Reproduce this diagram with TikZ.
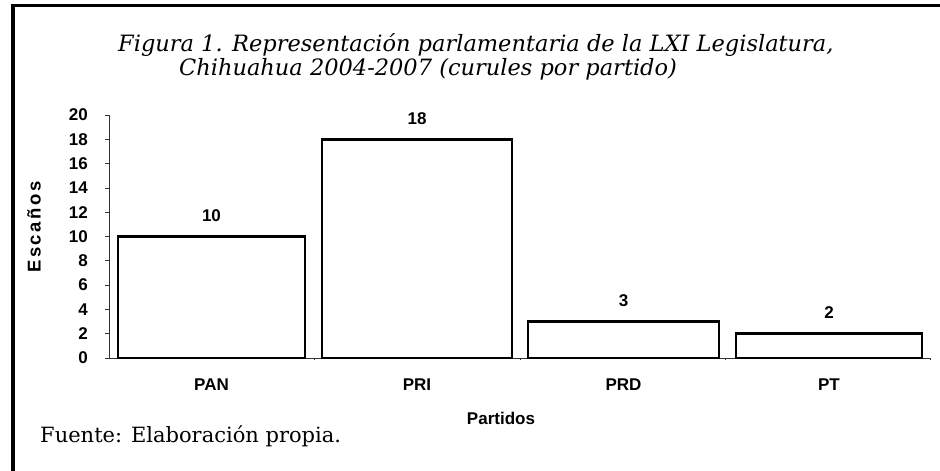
\documentclass[tikz,border=0pt]{standalone}
\usepackage{fontspec}
\setmainfont{DejaVu Serif}
\newfontfamily\arialf{Liberation Sans}
\begin{document}
\begin{tikzpicture}[x=1pt,y=-1pt,
  barbox/.style={draw=black,line width=2.6pt,fill=white,line join=miter},
  ticklab/.style={anchor=east,inner sep=0pt,font=\arialf\bfseries\fontsize{17}{18}\selectfont},
  vallab/.style={inner sep=0pt,font=\arialf\bfseries\fontsize{17}{18}\selectfont},
  catlab/.style={inner sep=0pt,font=\arialf\bfseries\fontsize{17}{18}\selectfont},
  titlab/.style={anchor=base west,inner sep=0pt,font=\itshape\fontsize{22.5}{24}\selectfont},
  axline/.style={line width=0.7pt,black!80}
]
\useasboundingbox (0,0) rectangle (940,471);
% frame
\draw[line width=3.5pt] (13,471) -- (13,5.5) -- (940,5.5);
% title
\node[titlab] (t1) at (118,51.5) {Figura 1. Representación parlamentaria de la LXI Legislatura,};
\node[titlab] (t2) at (179,75) {Chihuahua 2004-2007 (curules por partido)};
% axes
\coordinate (o) at (109,358);
\coordinate (ytop) at (109,115);
\coordinate (xend) at (930,358);
\draw[axline] (ytop) -- (o) -- (xend);
\foreach \v in {0,2,...,20}{
  \draw[axline] (105,{358-12.15*\v}) -- (109,{358-12.15*\v});
  \node[ticklab] (tk\v) at (88,{358-12.15*\v}) {\v};
}
\foreach \xx in {314,520,725,930}{
  \draw[axline] (\xx,358) -- (\xx,360);
}
% bars
\draw[barbox] (118,358) rectangle (305,{358-12.15*10});
\draw[barbox] (322,358) rectangle (512,{358-12.15*18});
\draw[barbox] (528,358) rectangle (719,{358-12.15*3});
\draw[barbox] (736,358) rectangle (922,{358-12.15*2});
% value labels
\node[vallab] (v1) at (211.5,{358-12.15*10-21}) {10};
\node[vallab] (v2) at (417,{358-12.15*18-21}) {18};
\node[vallab] (v3) at (623.5,{358-12.15*3-21}) {3};
\node[vallab] (v4) at (829,{358-12.15*2-21}) {2};
% category labels
\node[catlab] (c1) at (211.5,385) {PAN};
\node[catlab] (c2) at (417,385) {PRI};
\node[catlab] (c3) at (623.5,385) {PRD};
\node[catlab] (c4) at (829,385) {PT};
% axis titles
\node[inner sep=0pt,rotate=90,font=\arialf\bfseries\fontsize{18.5}{20}\selectfont\addfontfeature{LetterSpace=14}] (ytit) at (34,227) {Escaños};
\node[inner sep=0pt,font=\arialf\bfseries\fontsize{17}{18}\selectfont] (xtit) at (501,418) {Partidos};
% source
\node[anchor=base west,inner sep=0pt,font=\fontsize{21}{23}\selectfont] (src) at (40,442) {Fuente: Elaboración propia.};
\end{tikzpicture}
\end{document}
